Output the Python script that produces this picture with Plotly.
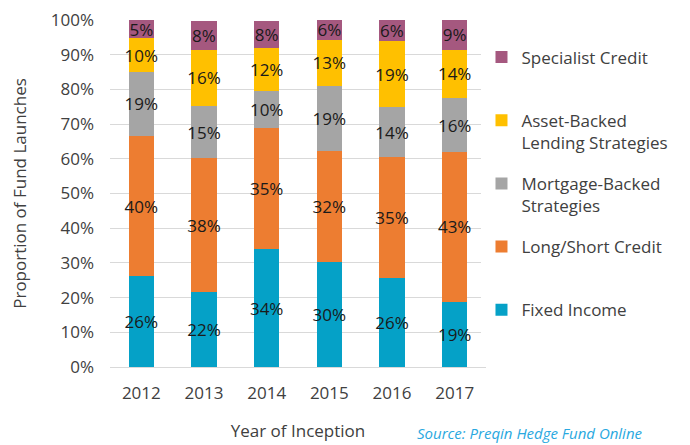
import plotly.graph_objects as go

years = ["2012", "2013", "2014", "2015", "2016", "2017"]
fixed_income = [26.1, 21.7, 34.0, 30.4, 25.6, 18.8]
long_short = [40.4, 38.4, 35.0, 31.9, 34.8, 43.1]
mortgage_backed = [18.6, 15.1, 10.4, 18.7, 14.4, 15.6]
asset_backed = [9.6, 16.2, 12.4, 13.3, 19.1, 14.0]
specialist = [5.4, 8.4, 8.0, 5.7, 6.0, 8.6]

series = [
    ("Fixed Income<br> ", fixed_income, "#05a1c7"),
    ("Long/Short Credit<br> ", long_short, "#ed7d31"),
    ("Mortgage-Backed<br>Strategies", mortgage_backed, "#a5a5a5"),
    ("Asset-Backed<br>Lending Strategies", asset_backed, "#ffc000"),
    ("Specialist Credit<br> ", specialist, "#a5587f"),
]

FONT = "Open Sans"
FS = 17
fig = go.Figure()
for i, (name, vals, col) in enumerate(series):
    fig.add_trace(go.Bar(
        x=years, y=vals, name=name,
        marker=dict(color=col, line=dict(width=0)),
        text=[f"{round(v):.0f}%" for v in vals],
        textposition="inside", insidetextanchor="middle",
        textangle=0, constraintext="none",
        textfont=dict(family=FONT, size=FS, color="#1a1a1a"),
        legendgroup=str(i), legendrank=10 - i,
        hoverinfo="skip",
    ))

# page body adds an 8px offset; figure is sized to compensate
fig.update_layout(
    barmode="stack",
    bargap=0.6,
    width=682, height=437,
    margin=dict(l=102, r=204, t=12, b=78),
    paper_bgcolor="white", plot_bgcolor="white",
    font=dict(family=FONT, color="#404040", size=FS),
    showlegend=True,
    legend=dict(
        x=0.988, y=0.944, xanchor="left", yanchor="top",
        traceorder="grouped", tracegroupgap=16, valign="top",
        font=dict(family=FONT, size=FS, color="#404040"),
        itemwidth=30,
    ),
    xaxis=dict(
        type="category", showgrid=False, zeroline=False, automargin=False,
        showline=False, ticks="", ticklabelstandoff=14,
        title=dict(text="Year of Inception", font=dict(size=FS), standoff=22),
        tickfont=dict(size=FS),
    ),
    yaxis=dict(
        range=[0, 100], dtick=10, ticksuffix="%", automargin=False,
        ticklabeloverflow="allow",
        showgrid=True, gridcolor="#d9d9d9", gridwidth=1,
        zeroline=True, zerolinecolor="#d9d9d9", zerolinewidth=1,
        showline=False, ticks="", ticklabelstandoff=15,
        title=dict(text="Proportion of Fund Launches", font=dict(size=FS), standoff=19),
        tickfont=dict(size=FS),
    ),
    annotations=[dict(
        text="<i>Source: Preqin Hedge Fund Online</i>",
        xref="paper", yref="paper", x=0.81, y=-0.225,
        xanchor="left", yanchor="bottom", showarrow=False,
        font=dict(family=FONT, size=15, color="#29a8e0"),
    )],
)

fig.write_html("out.html")
